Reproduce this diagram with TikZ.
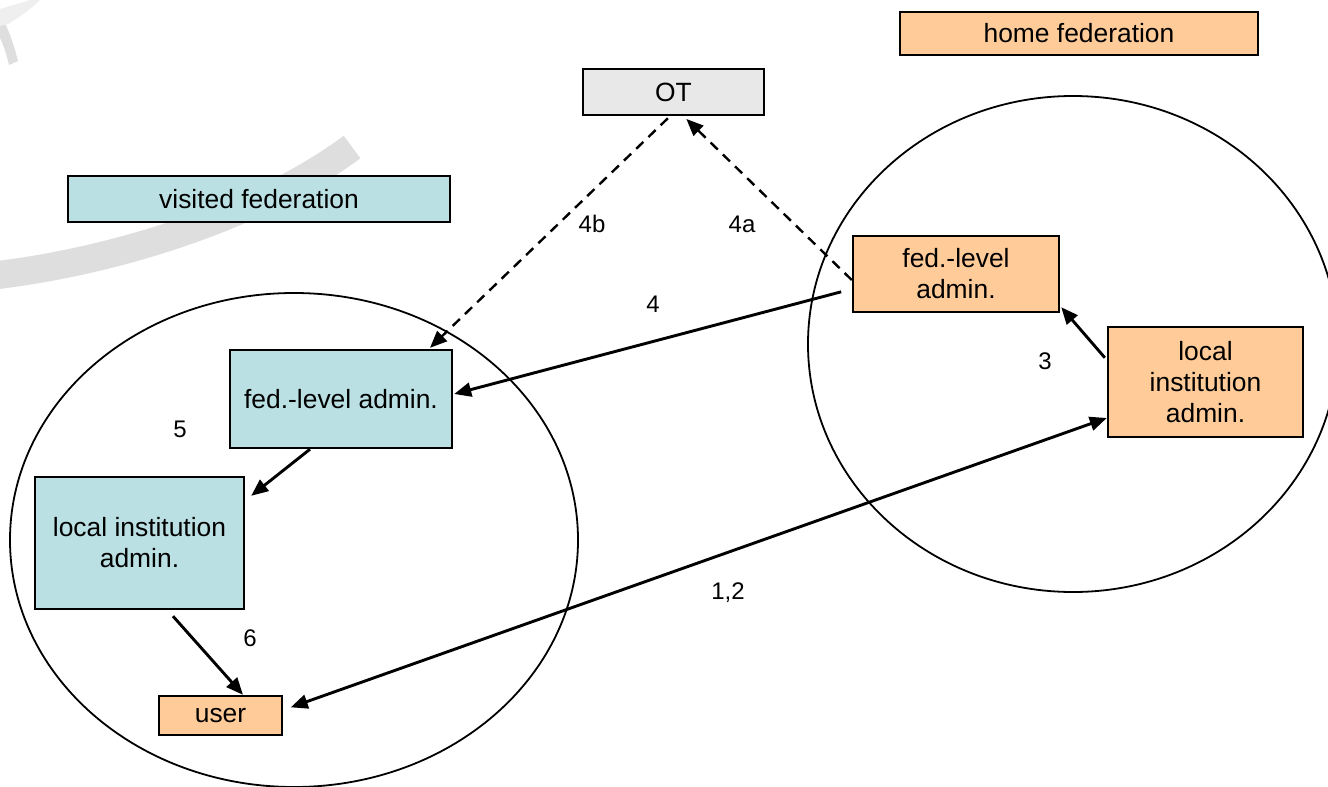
\documentclass[tikz,border=0pt]{standalone}
\usepackage{fontspec}
\setmainfont{Liberation Sans}
\usetikzlibrary{arrows.meta,calc}
\definecolor{peach}{HTML}{FFCC99}
\definecolor{fedteal}{HTML}{BAE0E3}
\definecolor{otgrey}{HTML}{E8E8E8}
\definecolor{wmgrey}{HTML}{DEDEDE}
\definecolor{wmlight}{HTML}{EFEFEF}
\begin{document}
\begin{tikzpicture}[x=1pt,y=-1pt,
  box/.style={draw=black,line width=2.4pt,align=center,inner sep=0pt,
    font=\fontsize{26.4pt}{31pt}\selectfont},
  home/.style={box,fill=peach},
  visited/.style={box,fill=fedteal},
  trust/.style={box,fill=otgrey},
  steplabel/.style={inner sep=0pt,font=\fontsize{24pt}{28pt}\selectfont},
  fedzone/.style={draw=black,line width=1.8pt},
  tip/.style={-{Triangle[length=17pt,width=14pt]}},
  arr/.style={line width=2.9pt,tip},
  biarr/.style={line width=2.9pt,{Triangle[length=17pt,width=14pt]}-{Triangle[length=17pt,width=14pt]}},
  dasharr/.style={line width=2.4pt,dash pattern=on 10pt off 7pt,tip}
]
\useasboundingbox (0,0) rectangle (1328,787);
\fill[white] (0,0) rectangle (1328,787);

% faint background swoosh
\draw[wmgrey,line width=28pt] (-20,277) .. controls (110,264) and (260,216) .. (352,147);
\fill[wmgrey] (0,14) .. controls (8,27) and (14,45) .. (18,61) -- (9,65)
  .. controls (6,52) and (3,44) .. (0,38) -- cycle;
\fill[wmlight] (0,9) -- (30,0) -- (40,0) .. controls (30,10) and (18,18) .. (8,24) -- (0,26) -- cycle;

% federation zones
\draw[fedzone] (294,540) ellipse [x radius=284, y radius=247];
\draw[fedzone] (1073,344) ellipse [x radius=265, y radius=248];

% boxes
\node[home,minimum width=358pt,minimum height=43pt] (homefed) at (1079,33.5) {home federation};
\node[trust,minimum width=181pt,minimum height=46pt] (OT) at (673.5,92) {OT};
\node[visited,minimum width=382pt,minimum height=46pt] (visfed) at (259,199) {visited federation};
\node[home,minimum width=206pt,minimum height=76pt] (rfed) at (956,274) {fed.-level\\admin.};
\node[home,minimum width=195pt,minimum height=110pt] (rloc) at (1205.5,382) {local\\institution\\admin.};
\node[visited,minimum width=222pt,minimum height=98pt] (lfed) at (341,399) {fed.-level admin.};
\node[visited,minimum width=209pt,minimum height=132pt] (lloc) at (139.5,543) {local institution\\admin.};
\node[home,minimum width=123pt,minimum height=39pt] (user) at (220.5,715.5) {user};

% connectors
\draw[arr,shorten <=11pt] ($(rfed.west)+(0,15)$) -- ($(lfed.east)+(1,-5)$);
\draw[dasharr,shorten >=4pt] ($(rfed.west)+(0,6)$) -- ($(OT.south)+(10,0)$);
\draw[dasharr,shorten <=3pt] ($(OT.south)+(-3.5,0)$) -- ($(lfed.north)+(89,-1)$);
\draw[arr,shorten <=3pt] ($(rloc.west)+(0,-22)$) -- ($(rfed.south east)+(1,-6)$);
\draw[biarr,shorten <=8pt] ($(user.east)+(0,-5.5)$) -- ($(rloc.west)+(0,36)$);
\coordinate (lloctip) at ($(lloc.north east)+(6,20)$);
\draw[arr] ($(lfed.south)+(-31,0)$) -- (lloctip);
\draw[arr] ($(lloc.south)+(33.5,6)$) -- ($(user.north)+(22.5,0)$);

% step labels
\node[steplabel] (l4b) at (592,224) {4b};
\node[steplabel] (l4a) at (742,224) {4a};
\node[steplabel] (l4) at (653,304) {4};
\node[steplabel] (l3) at (1045,361) {3};
\node[steplabel] (l5) at (180,429) {5};
\node[steplabel] (l6) at (250,638) {6};
\node[steplabel] (l12) at (728,593) {1,2};
\end{tikzpicture}
\end{document}
